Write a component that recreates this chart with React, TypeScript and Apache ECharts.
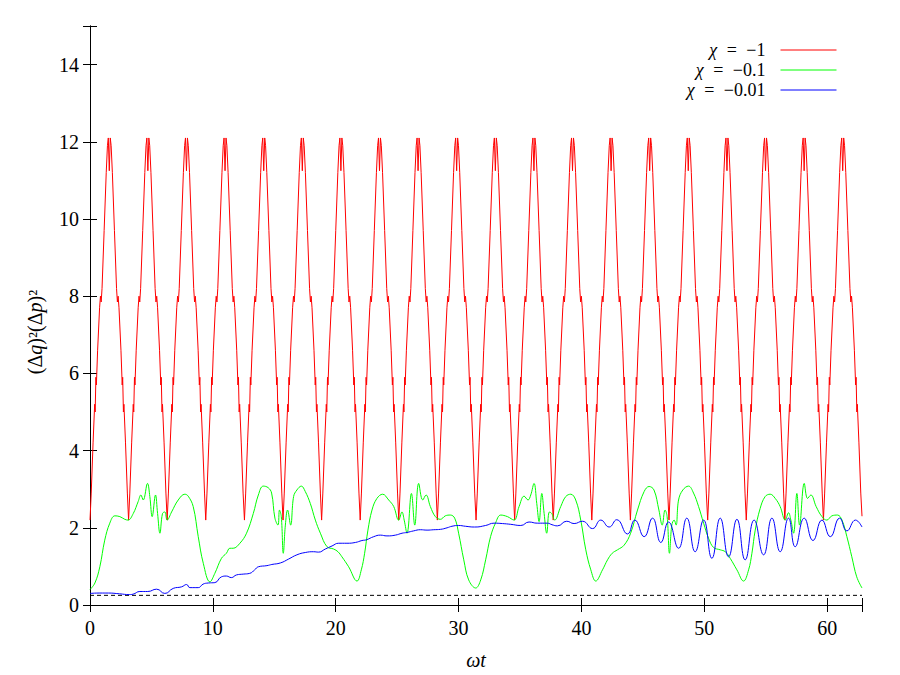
import React, { useEffect, useRef } from "react";
import * as echarts from "echarts";

// ---------- data ----------
const xTickLabels = [0, 10, 20, 30, 40, 50, 60];
const yTickLabels = [0, 2, 4, 6, 8, 10, 12, 14];
const xMax = 62.83;
const yMax = 15;
const limitLevel = 0.25;

const seriesNames = ["χ = −1", "χ = −0.1", "χ = −0.01"];
const seriesValues = ["−1", "−0.1", "−0.01"];

// chi = -1 : positions of the minima (start of each period) and sample offsets inside a period
const redMinima = [0, 3.14, 6.28, 9.42, 12.57, 15.71, 18.85, 21.99, 25.13, 28.27, 31.42, 34.56, 37.7, 40.84, 43.98, 47.12, 50.27, 53.41, 56.55, 59.69];
const redOffsets = [0, 0.1, 0.25, 0.38, 0.42, 0.48, 0.52, 0.62, 0.78, 0.85, 0.91, 0.98, 1.15, 1.32, 1.42, 1.49, 1.57, 1.65, 1.72, 1.82, 1.99, 2.16, 2.23, 2.29, 2.36, 2.52, 2.62, 2.66, 2.72, 2.76, 2.89, 3.04];
const redRows = [
  [2.2, 2.9, 4.2, 5.2, 5.0, 5.9, 5.7, 6.6, 7.7, 8.0, 7.85, 8.2, 9.7, 11.2, 11.9, 12.1, 11.25, 12.1, 11.9, 11.2, 9.7, 8.2, 7.85, 8.0, 7.7, 6.6, 5.7, 5.9, 5.0, 5.2, 4.2, 2.9],
  [2.2, 2.9, 4.2, 5.2, 5.0, 5.9, 5.7, 6.6, 7.7, 8.0, 7.85, 8.2, 9.7, 11.2, 11.9, 12.1, 11.25, 12.1, 11.9, 11.2, 9.7, 8.2, 7.85, 8.0, 7.7, 6.6, 5.7, 5.9, 5.0, 5.2, 4.2, 2.9],
  [2.2, 2.9, 4.2, 5.2, 5.0, 5.9, 5.7, 6.6, 7.7, 8.0, 7.85, 8.2, 9.7, 11.2, 11.9, 12.1, 11.25, 12.1, 11.9, 11.2, 9.7, 8.2, 7.85, 8.0, 7.7, 6.6, 5.7, 5.9, 5.0, 5.2, 4.2, 2.9],
  [2.2, 2.9, 4.2, 5.2, 5.0, 5.9, 5.7, 6.6, 7.7, 8.0, 7.85, 8.2, 9.7, 11.2, 11.9, 12.1, 11.25, 12.1, 11.9, 11.2, 9.7, 8.2, 7.85, 8.0, 7.7, 6.6, 5.7, 5.9, 5.0, 5.2, 4.2, 2.9],
  [2.2, 2.9, 4.2, 5.2, 5.0, 5.9, 5.7, 6.6, 7.7, 8.0, 7.85, 8.2, 9.7, 11.2, 11.9, 12.1, 11.25, 12.1, 11.9, 11.2, 9.7, 8.2, 7.85, 8.0, 7.7, 6.6, 5.7, 5.9, 5.0, 5.2, 4.2, 2.9],
  [2.2, 2.9, 4.2, 5.2, 5.0, 5.9, 5.7, 6.6, 7.7, 8.0, 7.85, 8.2, 9.7, 11.2, 11.9, 12.1, 11.25, 12.1, 11.9, 11.2, 9.7, 8.2, 7.85, 8.0, 7.7, 6.6, 5.7, 5.9, 5.0, 5.2, 4.2, 2.9],
  [2.2, 2.9, 4.2, 5.2, 5.0, 5.9, 5.7, 6.6, 7.7, 8.0, 7.85, 8.2, 9.7, 11.2, 11.9, 12.1, 11.25, 12.1, 11.9, 11.2, 9.7, 8.2, 7.85, 8.0, 7.7, 6.6, 5.7, 5.9, 5.0, 5.2, 4.2, 2.9],
  [2.2, 2.9, 4.2, 5.2, 5.0, 5.9, 5.7, 6.6, 7.7, 8.0, 7.85, 8.2, 9.7, 11.2, 11.9, 12.1, 11.25, 12.1, 11.9, 11.2, 9.7, 8.2, 7.85, 8.0, 7.7, 6.6, 5.7, 5.9, 5.0, 5.2, 4.2, 2.9],
  [2.2, 2.9, 4.2, 5.2, 5.0, 5.9, 5.7, 6.6, 7.7, 8.0, 7.85, 8.2, 9.7, 11.2, 11.9, 12.1, 11.25, 12.1, 11.9, 11.2, 9.7, 8.2, 7.85, 8.0, 7.7, 6.6, 5.7, 5.9, 5.0, 5.2, 4.2, 2.9],
  [2.2, 2.9, 4.2, 5.2, 5.0, 5.9, 5.7, 6.6, 7.7, 8.0, 7.85, 8.2, 9.7, 11.2, 11.9, 12.1, 11.25, 12.1, 11.9, 11.2, 9.7, 8.2, 7.85, 8.0, 7.7, 6.6, 5.7, 5.9, 5.0, 5.2, 4.2, 2.9],
  [2.2, 2.9, 4.2, 5.2, 5.0, 5.9, 5.7, 6.6, 7.7, 8.0, 7.85, 8.2, 9.7, 11.2, 11.9, 12.1, 11.25, 12.1, 11.9, 11.2, 9.7, 8.2, 7.85, 8.0, 7.7, 6.6, 5.7, 5.9, 5.0, 5.2, 4.2, 2.9],
  [2.2, 2.9, 4.2, 5.2, 5.0, 5.9, 5.7, 6.6, 7.7, 8.0, 7.85, 8.2, 9.7, 11.2, 11.9, 12.1, 11.25, 12.1, 11.9, 11.2, 9.7, 8.2, 7.85, 8.0, 7.7, 6.6, 5.7, 5.9, 5.0, 5.2, 4.2, 2.9],
  [2.2, 2.9, 4.2, 5.2, 5.0, 5.9, 5.7, 6.6, 7.7, 8.0, 7.85, 8.2, 9.7, 11.2, 11.9, 12.1, 11.25, 12.1, 11.9, 11.2, 9.7, 8.2, 7.85, 8.0, 7.7, 6.6, 5.7, 5.9, 5.0, 5.2, 4.2, 2.9],
  [2.2, 2.9, 4.2, 5.2, 5.0, 5.9, 5.7, 6.6, 7.7, 8.0, 7.85, 8.2, 9.7, 11.2, 11.9, 12.1, 11.25, 12.1, 11.9, 11.2, 9.7, 8.2, 7.85, 8.0, 7.7, 6.6, 5.7, 5.9, 5.0, 5.2, 4.2, 2.9],
  [2.2, 2.9, 4.2, 5.2, 5.0, 5.9, 5.7, 6.6, 7.7, 8.0, 7.85, 8.2, 9.7, 11.2, 11.9, 12.1, 11.25, 12.1, 11.9, 11.2, 9.7, 8.2, 7.85, 8.0, 7.7, 6.6, 5.7, 5.9, 5.0, 5.2, 4.2, 2.9],
  [2.2, 2.9, 4.2, 5.2, 5.0, 5.9, 5.7, 6.6, 7.7, 8.0, 7.85, 8.2, 9.7, 11.2, 11.9, 12.1, 11.25, 12.1, 11.9, 11.2, 9.7, 8.2, 7.85, 8.0, 7.7, 6.6, 5.7, 5.9, 5.0, 5.2, 4.2, 2.9],
  [2.2, 2.9, 4.2, 5.2, 5.0, 5.9, 5.7, 6.6, 7.7, 8.0, 7.85, 8.2, 9.7, 11.2, 11.9, 12.1, 11.25, 12.1, 11.9, 11.2, 9.7, 8.2, 7.85, 8.0, 7.7, 6.6, 5.7, 5.9, 5.0, 5.2, 4.2, 2.9],
  [2.2, 2.9, 4.2, 5.2, 5.0, 5.9, 5.7, 6.6, 7.7, 8.0, 7.85, 8.2, 9.7, 11.2, 11.9, 12.1, 11.25, 12.1, 11.9, 11.2, 9.7, 8.2, 7.85, 8.0, 7.7, 6.6, 5.7, 5.9, 5.0, 5.2, 4.2, 2.9],
  [2.2, 2.9, 4.2, 5.2, 5.0, 5.9, 5.7, 6.6, 7.7, 8.0, 7.85, 8.2, 9.7, 11.2, 11.9, 12.1, 11.25, 12.1, 11.9, 11.2, 9.7, 8.2, 7.85, 8.0, 7.7, 6.6, 5.7, 5.9, 5.0, 5.2, 4.2, 2.9],
  [2.2, 2.9, 4.2, 5.2, 5.0, 5.9, 5.7, 6.6, 7.7, 8.0, 7.85, 8.2, 9.7, 11.2, 11.9, 12.1, 11.25, 12.1, 11.9, 11.2, 9.7, 8.2, 7.85, 8.0, 7.7, 6.6, 5.7, 5.9, 5.0, 5.2, 4.2, 2.9],
];
const redLastPoint = [62.83, 2.3];

// chi = -0.1 : [omega t, value]
const greenData = [
  [0, 0.4], [0.4, 0.57], [0.8, 0.99], [1.2, 1.68], [1.61, 2.12], [2.02, 2.31], [2.43, 2.29], [2.83, 2.22], [3.1, 2.2],
  [3.52, 2.37], [3.92, 2.68], [4.14, 2.85], [4.33, 2.72], [4.68, 3.15], [4.87, 2.81], [5.06, 2.29], [5.33, 2.85],
  [5.5, 2.37], [5.69, 1.86], [5.9, 2.37], [6.09, 2.41], [6.28, 2.2], [6.64, 2.41], [7.18, 2.72], [7.72, 2.87],
  [7.99, 2.82], [8.4, 2.55], [8.81, 1.77], [9.22, 1.08], [9.76, 0.6], [10.16, 0.82], [10.7, 1.21], [11.1, 1.34],
  [11.38, 1.47], [11.65, 1.47], [12.2, 1.6], [12.74, 1.86], [13.29, 2.37], [13.7, 2.85], [14.1, 3.08], [14.5, 3.04],
  [14.78, 2.9], [15.05, 2.25], [15.3, 2.07], [15.42, 2.46], [15.57, 2.29], [15.73, 1.34], [15.9, 2.07], [16.08, 2.46],
  [16.33, 2.07], [16.57, 2.81], [16.84, 2.98], [17.2, 3.08], [17.52, 2.94], [17.93, 2.63], [18.34, 2.2], [18.75, 1.86],
  [19.29, 1.51], [19.83, 1.45], [20.18, 1.38], [20.5, 1.25], [21.05, 0.99], [21.73, 0.62], [22.08, 0.91], [22.35, 1.34],
  [22.62, 1.94], [22.95, 2.46], [23.35, 2.76], [23.82, 2.87], [24.31, 2.72], [24.72, 2.55], [25.12, 2.2], [25.39, 2.41],
  [25.57, 2.2], [25.8, 1.86], [26.16, 2.89], [26.43, 2.07], [26.75, 3.15], [27.08, 2.72], [27.35, 2.85], [27.7, 2.55],
  [28.11, 2.29], [28.52, 2.22], [28.92, 2.31], [29.33, 2.33], [29.68, 2.25], [30.0, 1.86], [30.42, 1.17], [30.82, 0.65],
  [31.39, 0.44], [31.8, 0.65], [32.2, 1.17], [32.6, 1.77], [33.0, 2.12], [33.43, 2.33], [33.97, 2.29], [34.51, 2.2],
  [34.92, 2.55], [35.33, 2.82], [35.65, 2.72], [35.87, 2.85], [36.14, 3.15], [36.36, 2.63], [36.55, 2.16], [36.77, 2.89],
  [36.96, 2.37], [37.17, 1.86], [37.39, 2.41], [37.58, 2.37], [37.82, 2.2], [38.31, 2.55], [38.72, 2.81], [39.13, 2.87],
  [39.53, 2.72], [39.94, 2.2], [40.35, 1.43], [40.76, 0.91], [41.16, 0.62], [41.71, 0.91], [42.12, 1.17], [42.5, 1.34],
  [42.93, 1.43], [43.47, 1.55], [44.0, 1.86], [44.56, 2.46], [45.1, 2.94], [45.5, 3.07], [45.9, 2.98], [46.3, 2.46],
  [46.57, 2.07], [46.8, 2.46], [46.97, 2.29], [47.16, 1.34], [47.35, 2.07], [47.54, 2.2], [47.7, 2.07], [47.9, 2.72],
  [48.25, 2.98], [48.71, 3.08], [49.12, 2.9], [49.53, 2.55], [49.94, 2.12], [50.34, 1.73], [50.75, 1.49], [51.29, 1.43],
  [51.7, 1.38], [52.1, 1.21], [52.65, 0.91], [53.19, 0.62], [53.6, 0.91], [53.87, 1.34], [54.14, 1.94], [54.54, 2.5],
  [54.95, 2.81], [55.36, 2.87], [55.77, 2.76], [56.17, 2.55], [56.58, 2.2], [56.85, 2.39], [57.04, 2.2], [57.26, 1.86],
  [57.53, 2.89], [57.75, 2.07], [58.13, 3.15], [58.4, 2.76], [58.67, 2.85], [59.1, 2.55], [59.57, 2.29], [59.97, 2.2],
  [60.38, 2.31], [60.84, 2.33], [61.2, 2.2], [61.6, 1.77], [62.0, 1.25], [62.4, 0.73], [62.83, 0.44],
];

// chi = -0.01 : [omega t, value]
const blueData = [
  [0, 0.3], [0.8, 0.31], [1.5, 0.31], [2.4, 0.29], [3.2, 0.27], [3.5, 0.28], [4.06, 0.35], [4.7, 0.35], [5.42, 0.41],
  [6.09, 0.3], [6.77, 0.43], [7.45, 0.47], [7.86, 0.53], [8.13, 0.45], [8.81, 0.45], [9.2, 0.54], [9.63, 0.57],
  [10.16, 0.58], [10.7, 0.73], [11.1, 0.75], [11.5, 0.71], [11.93, 0.78], [12.47, 0.8], [13.0, 0.82], [13.4, 0.91],
  [13.7, 0.99], [14.4, 1.02], [14.8, 1.05], [15.5, 1.09], [16.16, 1.19], [16.84, 1.3], [17.52, 1.36], [18.2, 1.38],
  [18.6, 1.37], [19.15, 1.45], [19.7, 1.53], [20.24, 1.6], [20.91, 1.6], [21.6, 1.62], [22.13, 1.67], [22.5, 1.69],
  [23.09, 1.77], [23.63, 1.81], [24.17, 1.79], [24.85, 1.81], [25.4, 1.86], [25.8, 1.88], [26.34, 1.92], [26.89, 1.95],
  [27.43, 1.94], [27.98, 1.95], [28.52, 1.96], [29.06, 2.0], [29.46, 2.04], [30.0, 2.06], [30.55, 2.04], [31.3, 2.02],
  [32.2, 2.06], [32.88, 2.12], [33.56, 2.11], [34.24, 2.09], [35.06, 2.06], [35.73, 2.15], [36.4, 2.12], [37.23, 2.12],
  [37.6, 2.08], [38.04, 2.05], [38.8, 2.17], [39.4, 2.11], [40.08, 2.17], [40.9, 1.98], [41.57, 2.2], [42.25, 2.02],
  [42.87, 2.21], [43.74, 1.84], [44.34, 2.2], [45.1, 1.77], [45.78, 2.25], [46.46, 1.62], [47.08, 2.15], [47.9, 1.47],
  [48.57, 2.25], [49.25, 1.38], [49.94, 2.2], [50.61, 1.21], [51.29, 2.25], [51.97, 1.25], [52.65, 2.22], [53.32, 1.17],
  [54.05, 2.2], [54.82, 1.3], [55.5, 2.25], [56.17, 1.38], [56.85, 2.25], [57.39, 1.51], [58.13, 2.25], [58.84, 1.67],
  [59.57, 2.2], [60.25, 1.77], [61.01, 2.25], [61.6, 1.92], [62.3, 2.2], [62.83, 2.02],
];

// ---------- chart ----------
const FONT = "Liberation Serif";
const FS = 20;
const LFS = 18;

function buildRed() {
  const pts: number[][] = [];
  redMinima.forEach((t0, k) => {
    redOffsets.forEach((dt, j) => {
      pts.push([+(t0 + dt).toFixed(3), redRows[k][j]]);
    });
  });
  pts.push(redLastPoint);
  return pts;
}

export default function App() {
  const ref = useRef<HTMLDivElement>(null);

  useEffect(() => {
    if (!ref.current) return;
    const chart = echarts.init(ref.current, null, { renderer: "svg" });

    const base = { fontFamily: FONT, fontSize: FS, color: "#000" };
    const italic = { ...base, fontStyle: "italic" };
    const lbase = { fontFamily: FONT, fontSize: LFS, color: "#000", lineHeight: 20 };
    const legendRich = {
      i: { ...lbase, fontStyle: "italic" },
      e: { ...lbase, padding: [0, 5, 0, 5] },
      n: { ...lbase, padding: [0, 10, 0, 0] },
    };
    const legendLabel: Record<string, string> = {};
    seriesNames.forEach((nm, k) => {
      legendLabel[nm] = `{i|χ} {e|=} {n|${seriesValues[k]}}`;
    });

    const tickStyle = { show: true, inside: true, length: 7, lineStyle: { color: "#000", width: 1 } };
    const lineStyleAxis = { show: true, lineStyle: { color: "#000", width: 1 } };

    chart.setOption({
      animation: false,
      backgroundColor: "#fff",
      textStyle: { fontFamily: FONT },
      grid: { left: 90, right: 38, top: 26, bottom: 70, containLabel: false },
      legend: {
        orient: "vertical",
        right: 58,
        top: 35,
        align: "right",
        itemWidth: 56,
        itemHeight: 20,
        itemGap: 0,
        data: seriesNames,
        itemStyle: { opacity: 0, borderWidth: 0 },
        lineStyle: { width: 1 },
        formatter: (name: string) => legendLabel[name] || name,
        textStyle: { ...lbase, rich: legendRich },
      },
      graphic: [
        {
          type: "text",
          x: 35,
          y: 332,
          rotation: Math.PI / 2,
          silent: true,
          style: {
            text: "(Δ{i|q})²(Δ{i|p})²",
            fontFamily: FONT,
            fontSize: FS,
            fill: "#000",
            align: "center",
            verticalAlign: "middle",
            rich: { i: { fontStyle: "italic", fontFamily: FONT, fontSize: FS, fill: "#000" } },
          },
        },
      ],
      xAxis: [
        {
          type: "value",
          min: 0,
          max: xMax,
          interval: 10,
          position: "bottom",
          axisLine: lineStyleAxis,
          axisTick: tickStyle,
          splitLine: { show: false },
          axisLabel: {
            margin: 13,
            fontFamily: FONT,
            fontSize: FS,
            color: "#000",
            formatter: (v: number) => (xTickLabels.includes(v) ? String(v) : ""),
          },
          name: "{i|ωt}",
          nameLocation: "middle",
          nameGap: 45,
          nameTextStyle: { fontFamily: FONT, fontSize: FS, color: "#000", rich: { i: italic } },
        },
        {
          type: "value",
          min: 0,
          max: xMax,
          interval: 10,
          position: "top",
          axisLine: lineStyleAxis,
          axisTick: tickStyle,
          axisLabel: { show: false },
          splitLine: { show: false },
        },
      ],
      yAxis: [
        {
          type: "value",
          min: 0,
          max: yMax,
          interval: 2,
          position: "left",
          axisLine: lineStyleAxis,
          axisTick: tickStyle,
          splitLine: { show: false },
          axisLabel: {
            margin: 11,
            fontFamily: FONT,
            fontSize: FS,
            color: "#000",
            formatter: (v: number) => (yTickLabels.includes(v) ? String(v) : ""),
          },
        },
        {
          type: "value",
          min: 0,
          max: yMax,
          interval: 2,
          position: "right",
          axisLine: lineStyleAxis,
          axisTick: tickStyle,
          axisLabel: { show: false },
          splitLine: { show: false },
        },
      ],
      series: [
        {
          name: seriesNames[0],
          type: "line",
          data: buildRed(),
          symbol: "none",
          smooth: false,
          lineStyle: { color: "#ff0000", width: 1 },
          itemStyle: { color: "#ff0000" },
          z: 3,
        },
        {
          name: seriesNames[1],
          type: "line",
          data: greenData,
          symbol: "none",
          smooth: 0.4,
          lineStyle: { color: "#00ff00", width: 1 },
          itemStyle: { color: "#00ff00" },
          z: 4,
        },
        {
          name: seriesNames[2],
          type: "line",
          data: blueData,
          symbol: "none",
          smooth: 0.5,
          lineStyle: { color: "#0000ff", width: 1 },
          itemStyle: { color: "#0000ff" },
          z: 5,
        },
        {
          name: "limit",
          type: "line",
          data: [
            [0, limitLevel],
            [xMax, limitLevel],
          ],
          symbol: "none",
          lineStyle: { color: "#000", width: 1, type: [4, 3] },
          z: 2,
        },
      ],
    });

    return () => chart.dispose();
  }, []);

  return (
    <div
      ref={ref}
      style={{ position: "fixed", left: 0, top: 0, width: 900, height: 675, background: "#fff" }}
    />
  );
}
